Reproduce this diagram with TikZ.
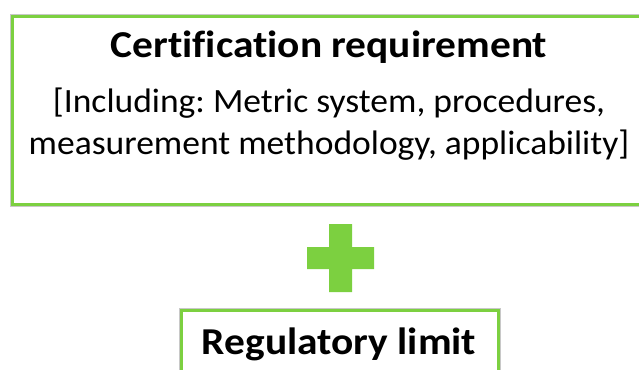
\documentclass[tikz,border=0pt]{standalone}
\usepackage{fontspec}
\setmainfont{Carlito}[Ligatures=NoCommon]
\frenchspacing
\definecolor{lgreen}{RGB}{124,208,64}
\definecolor{shadowgray}{RGB}{200,200,200}
\tikzset{
  greenbox/.style={draw=lgreen, line width=3pt, fill=white, inner sep=0pt},
  boxshadow/.style={draw=shadowgray, line width=5pt},
  txt/.style={inner sep=0pt, anchor=base, xscale=1.045, font=\fontsize{34}{40}\selectfont},
  btxt/.style={inner sep=0pt, anchor=base, xscale=1.09, font=\fontsize{38}{44}\selectfont\bfseries},
}
\begin{document}
\begin{tikzpicture}[x=1pt,y=-1pt]
\useasboundingbox (0,0) rectangle (639,369);
\clip (0,0) rectangle (639,369);
\fill[white] (0,0) rectangle (639,369);
% top box
\draw[boxshadow] (12.5,16.5) rectangle (662,204.5);
\node[greenbox, anchor=north west, minimum width=650pt, minimum height=188pt] (cert) at (11,15) {};
\node[btxt] (t1) at (329,58) {Certification requirement};
\node[txt] (t2) at (329,112) {[Including: Metric system, procedures,};
\node[txt] (t3) at (329,154) {measurement methodology, applicability]};
% plus sign
\fill[lgreen] (329,224) -- (352,224) -- (352,247) -- (374,247) -- (374,269) -- (352,269) -- (352,292) -- (329,292) -- (329,269) -- (307,269) -- (307,247) -- (329,247) -- cycle;
% bottom box
\draw[boxshadow] (181.5,310.5) rectangle (498.5,400);
\node[greenbox, anchor=north west, minimum width=317pt, minimum height=90pt] (reg) at (180,309) {};
\node[btxt] (t4) at (339,354) {Regulatory limit};
\end{tikzpicture}
\end{document}
